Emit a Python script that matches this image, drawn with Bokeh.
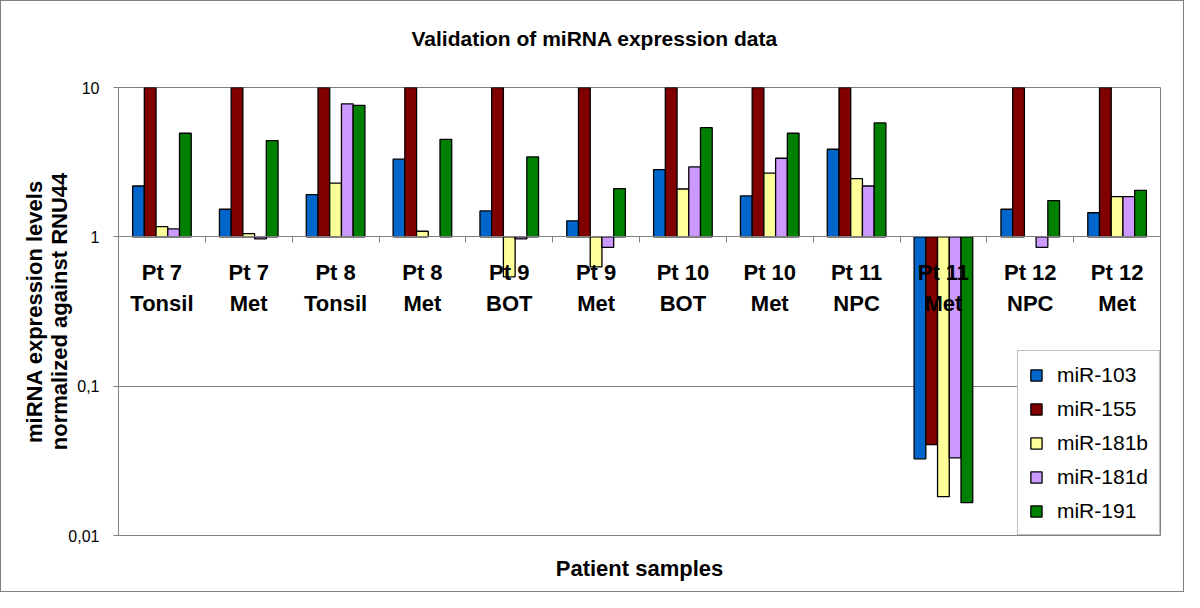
import math
from bokeh.plotting import figure
from bokeh.models import (Range1d, FixedTicker, LinearAxis, Legend, LegendItem,
                          ColumnDataSource)
from bokeh.transform import dodge
from bokeh.core.properties import value
from bokeh.embed import file_html
from bokeh.resources import INLINE

nan = float("nan")

# ---- data -------------------------------------------------------------
patients = ["Pt 7", "Pt 7", "Pt 8", "Pt 8", "Pt 9", "Pt 9",
            "Pt 10", "Pt 10", "Pt 11", "Pt 11", "Pt 12", "Pt 12"]
tissues = ["Tonsil", "Met", "Tonsil", "Met", "BOT", "Met",
           "BOT", "Met", "NPC", "Met", "NPC", "Met"]

mir_103 = [2.19, 1.53, 1.92, 3.31, 1.49, 1.28, 2.82, 1.88, 3.86, 0.0326, 1.53, 1.45]
mir_155 = [10, 10, 10, 10, 10, 10, 10, 10, 10, 0.0406, 10, 10]
mir_181b = [1.17, 1.05, 2.29, 1.09, 0.54, 0.63, 2.09, 2.67, 2.45, 0.0182, nan, 1.86]
mir_181d = [1.13, 0.97, 7.77, nan, 0.97, 0.85, 2.94, 3.36, 2.19, 0.0331, 0.85, 1.86]
mir_191 = [4.94, 4.41, 7.60, 4.50, 3.43, 2.10, 5.38, 4.94, 5.79, 0.0166, 1.75, 2.05]

series_names = ["miR-103", "miR-155", "miR-181b", "miR-181d", "miR-191"]
series_values = [mir_103, mir_155, mir_181b, mir_181d, mir_191]
colors = ["#0066CC", "#800000", "#FFFF99", "#CC99FF", "#008000"]

y_ticks = [0.01, 0.1, 1, 10]
y_tick_labels = ["0,01", "0,1", "1", "10"]

FONT = "Liberation Sans"
GRAY = "#808080"

# ---- figure -----------------------------------------------------------
n = len(patients)
p = figure(width=1184, height=592, output_backend="svg", toolbar_location=None,
           x_range=Range1d(-0.5, n - 0.5), y_range=Range1d(0.01, 10),
           y_axis_type="log",
           min_border_left=117, min_border_right=25,
           min_border_top=86, min_border_bottom=58)
p.styles = {"border": "1px solid #808080"}
p.outline_line_color = GRAY
p.outline_line_width = 1

data = dict(x=list(range(n)),
            label=[f"{a}\n{b}" for a, b in zip(patients, tissues)])
for name, vals in zip(series_names, series_values):
    data[name] = vals
src = ColumnDataSource(data)

bw = 0.135
items = []
for i, (name, c) in enumerate(zip(series_names, colors)):
    r = p.vbar(x=dodge("x", (i - 2) * bw, range=p.x_range), top=name, bottom=1,
               width=bw, fill_color=c, line_color="black", line_width=1.3,
               source=src)
    items.append(LegendItem(label=name, renderers=[r]))

# category labels drawn just under the y=1 line
p.text(x="x", y=1, text="label", source=src, text_align="center",
       text_baseline="top", y_offset=23, text_font=value(FONT),
       text_font_style="bold", text_font_size="22px", text_line_height=1.24,
       text_color="black")

# ---- axes -------------------------------------------------------------
p.xgrid.visible = False
p.ygrid.grid_line_color = GRAY
p.ygrid.grid_line_width = 1

ya = p.yaxis[0]
ya.ticker = FixedTicker(ticks=y_ticks)
ya.major_label_overrides = {t: s for t, s in zip(y_ticks, y_tick_labels)}
ya.minor_tick_line_color = None
ya.axis_line_color = GRAY
ya.major_tick_line_color = GRAY
ya.major_tick_out = 5
ya.major_tick_in = 0
ya.major_label_standoff = 14
ya.major_label_text_font = FONT
ya.major_label_text_font_size = "16px"
ya.major_label_text_color = "black"
ya.axis_label = "miRNA expression levels\nnormalized against RNU44"
ya.axis_label_text_font = FONT
ya.axis_label_text_font_style = "bold"
ya.axis_label_text_font_size = "22px"
ya.axis_label_text_line_height = 1.0
ya.axis_label_text_color = "black"
ya.axis_label_standoff = -7

xa = p.xaxis[0]
xa.ticker = FixedTicker(ticks=[])
xa.axis_line_color = None
xa.major_tick_line_color = None
xa.minor_tick_line_color = None
xa.major_label_text_color = None
xa.axis_label = "Patient samples"
xa.axis_label_text_font = FONT
xa.axis_label_text_font_style = "bold"
xa.axis_label_text_font_size = "22px"
xa.axis_label_text_color = "black"
xa.axis_label_standoff = 20

# category axis crossing at y = 1
base_axis = LinearAxis(fixed_location=1,
                       ticker=FixedTicker(ticks=[i - 0.5 for i in range(n + 1)]),
                       axis_line_color=GRAY, major_tick_line_color=GRAY,
                       major_tick_in=0, major_tick_out=6,
                       minor_tick_line_color=None,
                       major_label_text_color=None)
p.add_layout(base_axis, "below")

# ---- title ------------------------------------------------------------
# trailing blank line lifts the title text further above the plot area
p.title.text = "Validation of miRNA expression data\n"
p.title.align = "left"
p.title.offset = 293
p.title.text_font = FONT
p.title.text_font_style = "bold"
p.title.text_font_size = "21px"
p.title.text_line_height = 1.2
p.title.text_color = "black"
if "standoff" in p.title.properties():
    p.title.standoff = 20

# ---- legend -----------------------------------------------------------
legend = Legend(items=items, location="bottom_right", padding=11, spacing=9,
                label_height=25, glyph_width=14, glyph_height=14,
                label_standoff=14,
                label_text_font=FONT, label_text_font_size="21px",
                label_text_color="black",
                border_line_color=GRAY, border_line_width=1,
                background_fill_color="white", background_fill_alpha=1,
                margin=0)
p.add_layout(legend)

open("out.html", "w").write(file_html(p, INLINE))
